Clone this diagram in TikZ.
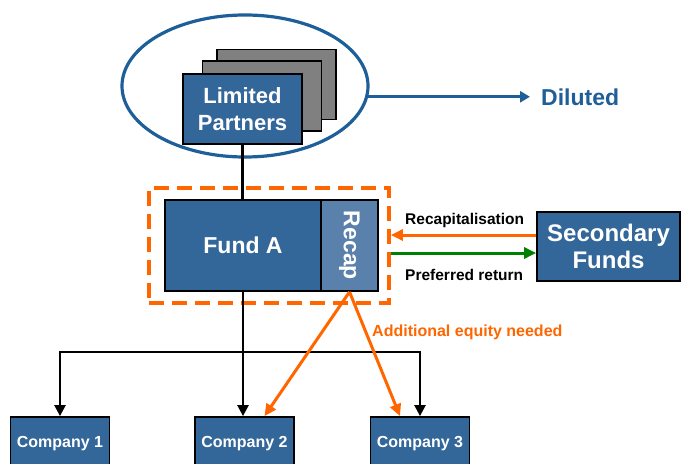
\documentclass[tikz,border=0pt]{standalone}
\usepackage{fontspec}
\setmainfont{Liberation Sans}
\usetikzlibrary{arrows.meta,shapes.geometric}

\definecolor{boxblue}{HTML}{336699}
\definecolor{recapblue}{HTML}{5A80AC}
\definecolor{ringblue}{HTML}{1F5F99}
\definecolor{eqorange}{HTML}{FF6600}
\definecolor{retgreen}{HTML}{008000}
\definecolor{cardgray}{HTML}{808080}

\newcommand{\fsz}[2]{\fontsize{#1}{#2}\selectfont\bfseries}

\begin{document}
\begin{tikzpicture}[x=1pt,y=-1pt,
  bluebox/.style={draw=black, line width=1.8pt, fill=boxblue, text=white,
    align=center, inner sep=0pt},
  card/.style={draw=black, line width=1.8pt, fill=cardgray,
    minimum width=119pt, minimum height=70pt, inner sep=0pt},
  recapbox/.style={draw=black, line width=1.8pt, fill=recapblue, text=white,
    inner sep=0pt},
  company/.style={bluebox, minimum width=99pt, minimum height=53pt,
    font=\fsz{16}{19}},
  zonebox/.style={draw=eqorange, line width=3.8pt, dash pattern=on 15pt off 8pt,
    inner sep=0pt},
  ring/.style={ellipse, draw=ringblue, line width=3.2pt, inner sep=0pt,
    minimum width=246pt, minimum height=142pt},
  blk/.style={draw=black, line width=2.6pt},
  blkarrow/.style={draw=black, line width=2.4pt,
    -{Triangle[length=11pt,width=11pt]}},
  oarrow/.style={draw=eqorange, line width=3pt,
    -{Triangle[length=12pt,width=11pt]}},
  garrow/.style={draw=retgreen, line width=3pt,
    -{Triangle[length=12pt,width=11pt]}},
  barrow/.style={draw=ringblue, line width=3pt,
    -{Triangle[length=10pt,width=11pt]}},
  flowlabel/.style={anchor=west, inner sep=0pt, text=black, font=\fsz{15.5}{18}}
]
\useasboundingbox (0,0) rectangle (682,463);
\clip (0,0) rectangle (682,463);

% investor group
\node[ring] (ring) at (245,86) {};
\node[card] (card3) at (276.5,84.5) {};
\node[card] (card2) at (262,96) {};
\node[bluebox, minimum width=119pt, minimum height=70pt,
  font=\fsz{22}{27}] (lp) at (242.5,109) {Limited\\Partners};

\node[anchor=west, inner sep=0pt, text=ringblue, font=\fsz{23}{27}]
  (dil) at (541,97) {Diluted};
\draw[barrow, shorten >=11pt] (ring.-5) -- (ring.-5 -| dil.west);

% fund and recap tranche
\node[zonebox, minimum width=240pt, minimum height=115pt] (zone) at (269,245.5) {};
\node[bluebox, minimum width=156pt, minimum height=91pt,
  font=\fsz{23}{27}] (fund) at (243,245.5) {Fund A};
\node[recapbox, minimum width=57pt, minimum height=91pt,
  font=\fsz{23}{27}] (recap) at (349.5,245.5) {\rotatebox{-90}{Recap}};

\draw[blk] (lp.south) -- (lp.south |- fund.north);

% secondary buyers
\node[bluebox, minimum width=143pt, minimum height=69pt,
  font=\fsz{24}{27}] (sec) at (608.5,246.5) {Secondary\\Funds};
\draw[oarrow] ([yshift=11.5pt]sec.west) -- ([yshift=11.5pt]sec.west -| zone.east);
\draw[garrow] ([yshift=-6.5pt]sec.west -| zone.east) -- ([yshift=-6.5pt]sec.west);
\node[flowlabel] (rclab) at (405,220) {Recapitalisation};
\node[flowlabel] (prlab) at (405,275) {Preferred return};

% portfolio companies
\node[company] (c1) at (60,443.5) {Company 1};
\node[company] (c2) at (244.5,443.5) {Company 2};
\node[company] (c3) at (420,443.5) {Company 3};

\coordinate (bus) at (243,352);
\draw[blkarrow] (fund.south) -- (fund.south |- c2.north);
\draw[blkarrow] (bus) -| (c1.north);
\draw[blkarrow] (bus) -| (c3.north);

\draw[oarrow] (recap.south) -- ([xshift=20pt]c2.north);
\draw[oarrow] (recap.south) -- ([xshift=-20pt]c3.north);
\node[anchor=west, inner sep=0pt, text=eqorange, font=\fsz{16}{19}]
  (eqlab) at (372,332) {Additional equity needed};
\end{tikzpicture}
\end{document}
